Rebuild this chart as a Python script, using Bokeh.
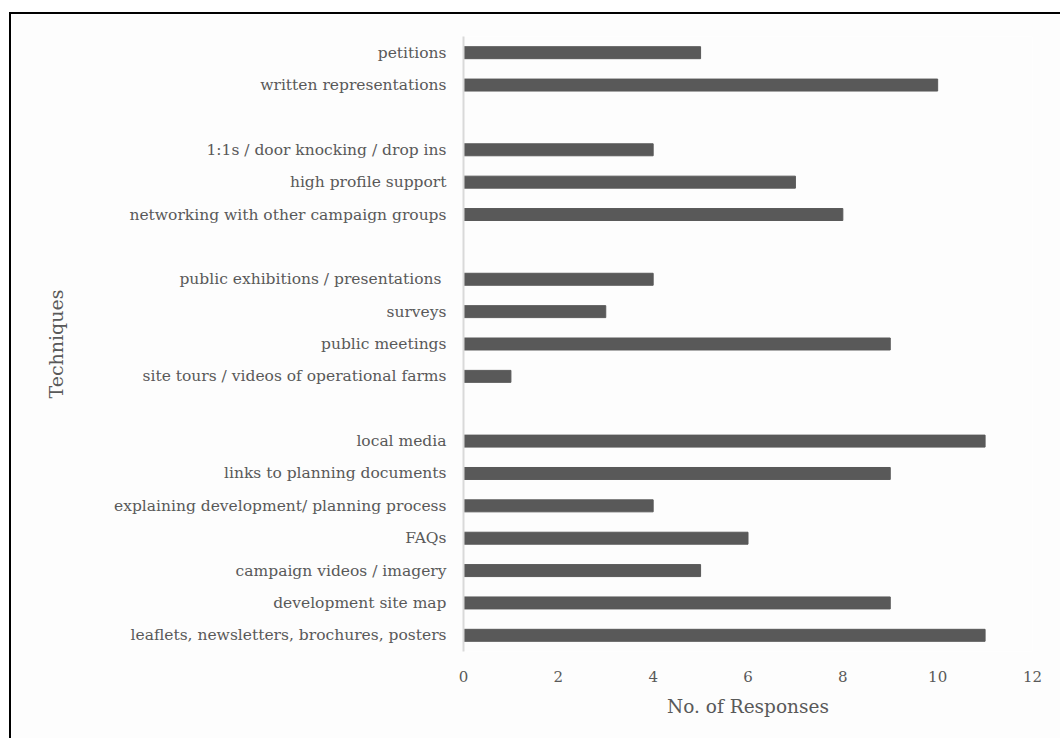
from bokeh.plotting import figure
from bokeh.models import Range1d, FixedTicker
from bokeh.embed import file_html
from bokeh.resources import INLINE

# Techniques listed top to bottom; empty strings separate the groups
techniques = [
    "petitions",
    "written representations",
    "",
    "1:1s / door knocking / drop ins",
    "high profile support",
    "networking with other campaign groups",
    "",
    "public exhibitions / presentations ",
    "surveys",
    "public meetings",
    "site tours / videos of operational farms",
    "",
    "local media",
    "links to planning documents",
    "explaining development/ planning process",
    "FAQs",
    "campaign videos / imagery",
    "development site map",
    "leaflets, newsletters, brochures, posters",
]
responses = [5, 10, None, 4, 7, 8, None, 4, 3, 9, 1, None, 11, 9, 4, 6, 5, 9, 11]
x_ticks = [0, 2, 4, 6, 8, 10, 12]

FONT = "DejaVu Serif"
GREY = "#595959"

rows = [i for i, t in enumerate(techniques) if t]
vals = [responses[i] for i in rows]
n = len(techniques)

p = figure(
    width=1051, height=726,
    x_range=Range1d(0, 12),
    y_range=Range1d(n - 0.5, -0.5),
    output_backend="svg", toolbar_location=None,
    min_border_left=452, min_border_right=30,
    min_border_top=22, min_border_bottom=89,
)
# thin black frame around the whole chart
p.styles = {"border-top": "2px solid #000", "border-left": "2px solid #000",
            "margin-left": "9px", "margin-top": "12px"}

p.hbar(y=rows, right=vals, left=0, height=0.37, color=GREY)

p.outline_line_color = None
p.xgrid.visible = False
p.ygrid.visible = False
p.background_fill_color = "#fdfdfd"
p.border_fill_color = "#fdfdfd"

xa = p.xaxis[0]
xa.ticker = FixedTicker(ticks=x_ticks)
xa.axis_line_color = None
xa.major_tick_line_color = None
xa.minor_tick_line_color = None
xa.major_label_standoff = 13
xa.major_label_text_font = FONT
xa.major_label_text_font_size = "15px"
xa.major_label_text_color = GREY
xa.axis_label = "No. of Responses"
xa.axis_label_text_font = FONT
xa.axis_label_text_font_size = "18.5px"
xa.axis_label_text_font_style = "normal"
xa.axis_label_text_color = GREY
xa.axis_label_standoff = 11

ya = p.yaxis[0]
ya.ticker = FixedTicker(ticks=rows)
ya.major_label_overrides = {i: techniques[i] for i in rows}
ya.axis_line_color = "#d9d9d9"
ya.axis_line_width = 2
ya.major_tick_line_color = None
ya.minor_tick_line_color = None
ya.major_label_standoff = 11
ya.major_label_text_font = FONT
ya.major_label_text_font_size = "15.5px"
ya.major_label_text_color = GREY
ya.axis_label = "Techniques"
ya.axis_label_text_font = FONT
ya.axis_label_text_font_size = "19px"
ya.axis_label_text_font_style = "normal"
ya.axis_label_text_color = GREY
ya.axis_label_standoff = 44

open("out.html", "w").write(file_html(p, INLINE))
